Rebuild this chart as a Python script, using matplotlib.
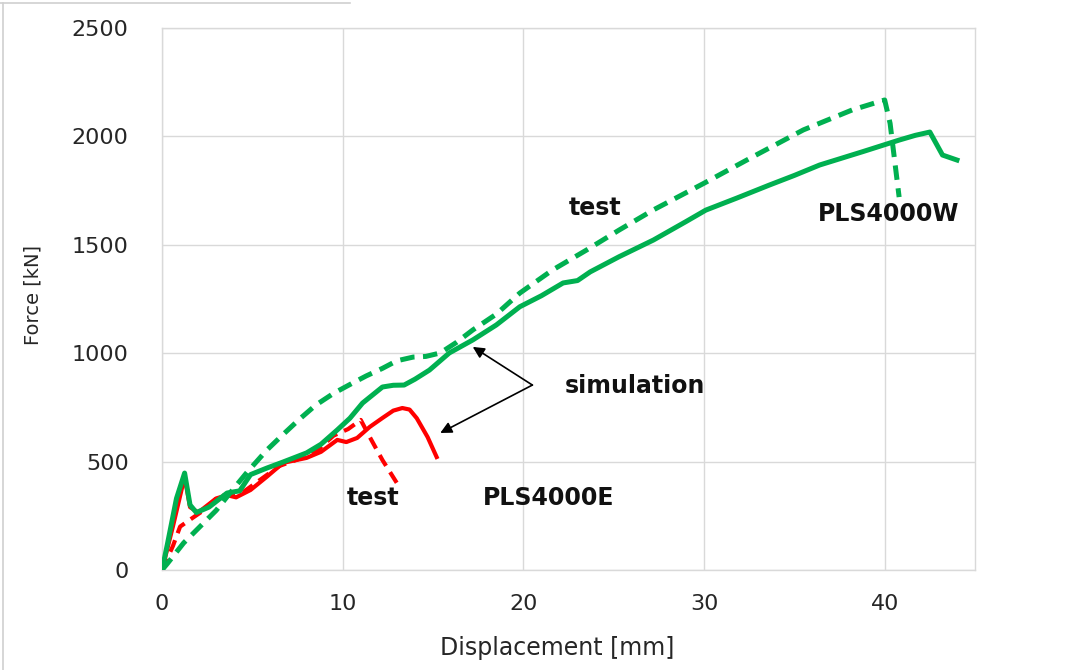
import matplotlib
matplotlib.use("Agg")
import matplotlib.pyplot as plt
from matplotlib.lines import Line2D

# PLS4000W - simulation (solid) and test (dashed)
w_sim_x = [0, 0.3, 0.8, 1.25, 1.55, 1.9, 2.6, 3.6, 4.3, 4.9, 5.8, 6.7, 8.0, 8.8, 9.7,
           10.4, 11.1, 12.2, 12.8, 13.4, 14.0, 14.8, 15.9, 17.2, 18.5, 19.8, 21.0, 22.2,
           23.0, 23.7, 25.3, 27.2, 29.0, 30.1, 31.8, 33.6, 35.0, 36.4, 38.8, 40.8,
           41.7, 42.5, 43.2, 44.0]
w_sim_y = [0, 120, 330, 447, 300, 265, 290, 355, 365, 440, 470, 498, 540, 580, 646,
           700, 770, 844, 852, 853, 880, 922, 1001, 1061, 1130, 1214, 1265, 1324,
           1335, 1375, 1445, 1522, 1607, 1660, 1715, 1775, 1820, 1868, 1930, 1983,
           2005, 2020, 1914, 1891]

w_test_x = [0, 0.3, 1.2, 2.1, 3.0, 3.9, 4.7, 5.8, 6.7, 7.6, 8.5, 9.5, 10.5, 11.3, 12.2,
            13.0, 13.9, 14.6, 15.4, 16.3, 17.2, 18.5, 19.8, 21.6, 23.5, 25.3, 27.2, 30.0,
            32.7, 35.5, 38.2, 40.0, 40.3, 40.8]
w_test_y = [0, 30, 125, 200, 275, 369, 450, 553, 625, 695, 760, 815, 860, 895, 930,
            965, 982, 985, 1001, 1050, 1107, 1180, 1277, 1383, 1476, 1568, 1661, 1784,
            1906, 2030, 2122, 2168, 2060, 1720]

# PLS4000E - simulation (solid) and test (dashed)
e_sim_x = [0, 0.6, 1.25, 1.55, 2.0, 3.0, 3.6, 4.1, 4.9, 5.8, 6.7, 8.0, 8.8, 9.7, 10.2,
           10.8, 11.5, 12.2, 12.8, 13.3, 13.7, 14.1, 14.7, 15.2]
e_sim_y = [0, 200, 430, 290, 265, 330, 345, 335, 369, 430, 494, 517, 545, 600, 590,
           609, 660, 701, 735, 747, 740, 700, 613, 521]

e_test_x = [0, 0.6, 1.0, 1.6, 2.3, 3.0, 3.6, 4.5, 5.5, 6.5, 7.5, 8.5, 9.5, 10.3, 11.0,
            11.5, 12.2, 13.0]
e_test_y = [0, 110, 200, 235, 275, 330, 350, 360, 420, 480, 510, 545, 620, 650, 692,
            613, 507, 401]

GREEN = "#00B050"
RED = "#FF0000"

plt.rcParams["font.family"] = ["DejaVu Sans"]

fig = plt.figure(figsize=(10.86, 6.70), dpi=100)
ax = fig.add_axes([0.1492, 0.1493, 0.7486, 0.8089])

ax.plot(e_test_x, e_test_y, color=RED, lw=3.0, dashes=(3.0, 1.8), zorder=3)
ax.plot(e_sim_x, e_sim_y, color=RED, lw=3.0, zorder=3)
ax.plot(w_test_x, w_test_y, color=GREEN, lw=3.6, dashes=(2.9, 1.7), zorder=4)
ax.plot(w_sim_x, w_sim_y, color=GREEN, lw=3.6, zorder=4)

ax.set_xlim(0, 45)
ax.set_ylim(0, 2500)
ax.set_xticks([0, 10, 20, 30, 40])
ax.set_yticks([0, 500, 1000, 1500, 2000, 2500])
ax.grid(True, color="#d9d9d9", lw=1.0)
ax.set_axisbelow(True)
for s in ax.spines.values():
    s.set_color("#d9d9d9")
    s.set_linewidth(1.0)
ax.tick_params(axis="both", length=0, labelsize=16, colors="#262626")
ax.tick_params(axis="y", pad=24)
ax.tick_params(axis="x", pad=17)

ax.set_xlabel("Displacement [mm]", fontsize=17, color="#262626")
ax.set_ylabel("Force [kN]", fontsize=14, color="#262626")
ax.xaxis.set_label_coords(0.486, -0.122)
ax.yaxis.set_label_coords(-0.147, 0.507)

bold = dict(fontsize=17, fontweight="bold", color="#111111", ha="center", va="center")
ax.text(23.95, 1670, "test", **bold)
ax.text(40.2, 1642, "PLS4000W", **bold)
ax.text(26.2, 849, "simulation", **bold)
ax.text(11.7, 332, "test", **bold)
ax.text(21.4, 332, "PLS4000E", **bold)

arrow = dict(arrowstyle="-|>", color="black", lw=1.2, mutation_scale=17, shrinkA=0, shrinkB=0)
ax.annotate("", xy=(17.2, 1029), xytext=(20.5, 853), arrowprops=arrow)
ax.annotate("", xy=(15.4, 632), xytext=(20.5, 853), arrowprops=arrow)

# thin frame around the figure edge
fig.add_artist(Line2D([0.003, 0.003], [0, 0.996], transform=fig.transFigure, color="#d0d0d0", lw=1.2))
fig.add_artist(Line2D([0, 0.322], [0.996, 0.996], transform=fig.transFigure, color="#d0d0d0", lw=1.2))

fig.savefig("out.png", dpi=100)
